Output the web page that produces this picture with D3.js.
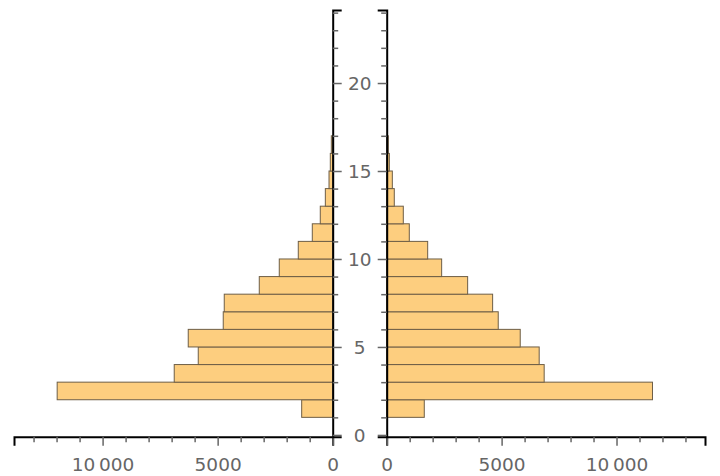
<!DOCTYPE html>
<html>
<head>
<meta charset="utf-8">
<script src="https://cdn.jsdelivr.net/npm/d3@7"></script>
<style>
  body { margin: 0; background: #fff; }
  svg { display: block; }
  .tick text { font-family: "DejaVu Sans", sans-serif; font-size: 18.5px; fill: #666; }
</style>
</head>
<body>
<script>
// bins start at 1, each 1 unit tall
var binStart = [1, 2, 3, 4, 5, 6, 7, 8, 9, 10, 11, 12, 13, 14, 15, 16];
var leftValues  = [1348, 11974, 6887, 5843, 6278, 4757, 4713, 3191, 2322, 1496, 887, 540, 320, 160, 104, 60];
var rightValues = [1635, 11565, 6852, 6635, 5810, 4853, 4609, 3522, 2391, 1783, 983, 722, 330, 245, 115, 70];
var xTicks = [0, 1000, 2000, 3000, 4000, 5000, 6000, 7000, 8000, 9000, 10000, 11000, 12000, 13000];
var xMajor = [0, 5000, 10000];
var yTicks = d3.range(0, 25);
var yMajor = [0, 5, 10, 15, 20];

var width = 720, height = 476;
var fill = "#fdce7f";
var edge = "#6e5e46";

var svg = d3.select("body").append("svg")
  .attr("width", width)
  .attr("height", height);

var y = d3.scaleLinear().domain([-0.1, 24.15]).range([436.7, 10]);
var xL = d3.scaleLinear().domain([0, 13850]).range([332.7, 14]);
var xR = d3.scaleLinear().domain([0, 13850]).range([386.7, 705]);

var fmt = function(d) {
  if (xMajor.indexOf(d) < 0) return "";
  if (d >= 10000) return d3.format(",")(d).replace(",", "\u2009");
  return String(d);
};

// bars
svg.append("g").selectAll("rect")
  .data(binStart).enter()
  .append("rect")
  .attr("x", (d, i) => xL(leftValues[i]))
  .attr("width", (d, i) => xL(0) - xL(leftValues[i]))
  .attr("y", d => y(d + 1))
  .attr("height", d => y(d) - y(d + 1))
  .style("fill", fill)
  .style("stroke", edge)
  .style("stroke-width", 1);

svg.append("g").selectAll("rect")
  .data(binStart).enter()
  .append("rect")
  .attr("x", xR(0))
  .attr("width", (d, i) => xR(rightValues[i]) - xR(0))
  .attr("y", d => y(d + 1))
  .attr("height", d => y(d) - y(d + 1))
  .style("fill", fill)
  .style("stroke", edge)
  .style("stroke-width", 1);

function styleAxis(g, major, len) {
  g.select(".domain").attr("stroke", "#000").attr("stroke-width", 2);
  g.selectAll(".tick line")
    .attr("stroke", "#666")
    .attr("stroke-width", 1.5);
  g.selectAll(".tick").each(function(d) {
    var big = major.indexOf(d) >= 0;
    var l = d3.select(this).select("line");
    if (l.attr("x2") != null && +l.attr("x2") !== 0) l.attr("x2", (+l.attr("x2") > 0 ? 1 : -1) * (big ? len[0] : len[1]));
    if (l.attr("y2") != null && +l.attr("y2") !== 0) l.attr("y2", big ? len[0] : len[1]);
  });
}

// bottom axes
var gxL = svg.append("g")
  .attr("transform", "translate(0," + y(-0.1) + ")")
  .call(d3.axisBottom(xL).tickValues(xTicks).tickFormat(fmt).tickSizeOuter(0).tickSize(9).tickPadding(12));
styleAxis(gxL, xMajor, [9, 5.5]);

var gxR = svg.append("g")
  .attr("transform", "translate(0," + y(-0.1) + ")")
  .call(d3.axisBottom(xR).tickValues(xTicks).tickFormat(fmt).tickSizeOuter(0).tickSize(9).tickPadding(12));
styleAxis(gxR, xMajor, [9, 5.5]);

// vertical axes (ticks pointing inward, no labels)
var gyL = svg.append("g")
  .attr("transform", "translate(" + xL(0) + ",0)")
  .call(d3.axisRight(y).tickValues(yTicks).tickFormat("").tickSizeOuter(0).tickSize(9));
styleAxis(gyL, yMajor, [9, 5.5]);

var gyR = svg.append("g")
  .attr("transform", "translate(" + xR(0) + ",0)")
  .call(d3.axisLeft(y).tickValues(yTicks).tickFormat("").tickSizeOuter(0).tickSize(9));
styleAxis(gyR, yMajor, [9, 5.5]);

// y labels centred between the two axes
svg.append("g").selectAll("text")
  .data(yMajor).enter()
  .append("text")
  .attr("x", (xL(0) + xR(0)) / 2)
  .attr("y", d => y(d))
  .attr("dy", "0.36em")
  .attr("text-anchor", "middle")
  .style("font-family", "DejaVu Sans, sans-serif")
  .style("font-size", "18.5px")
  .style("fill", "#666")
  .text(d => d);
</script>
</body>
</html>
